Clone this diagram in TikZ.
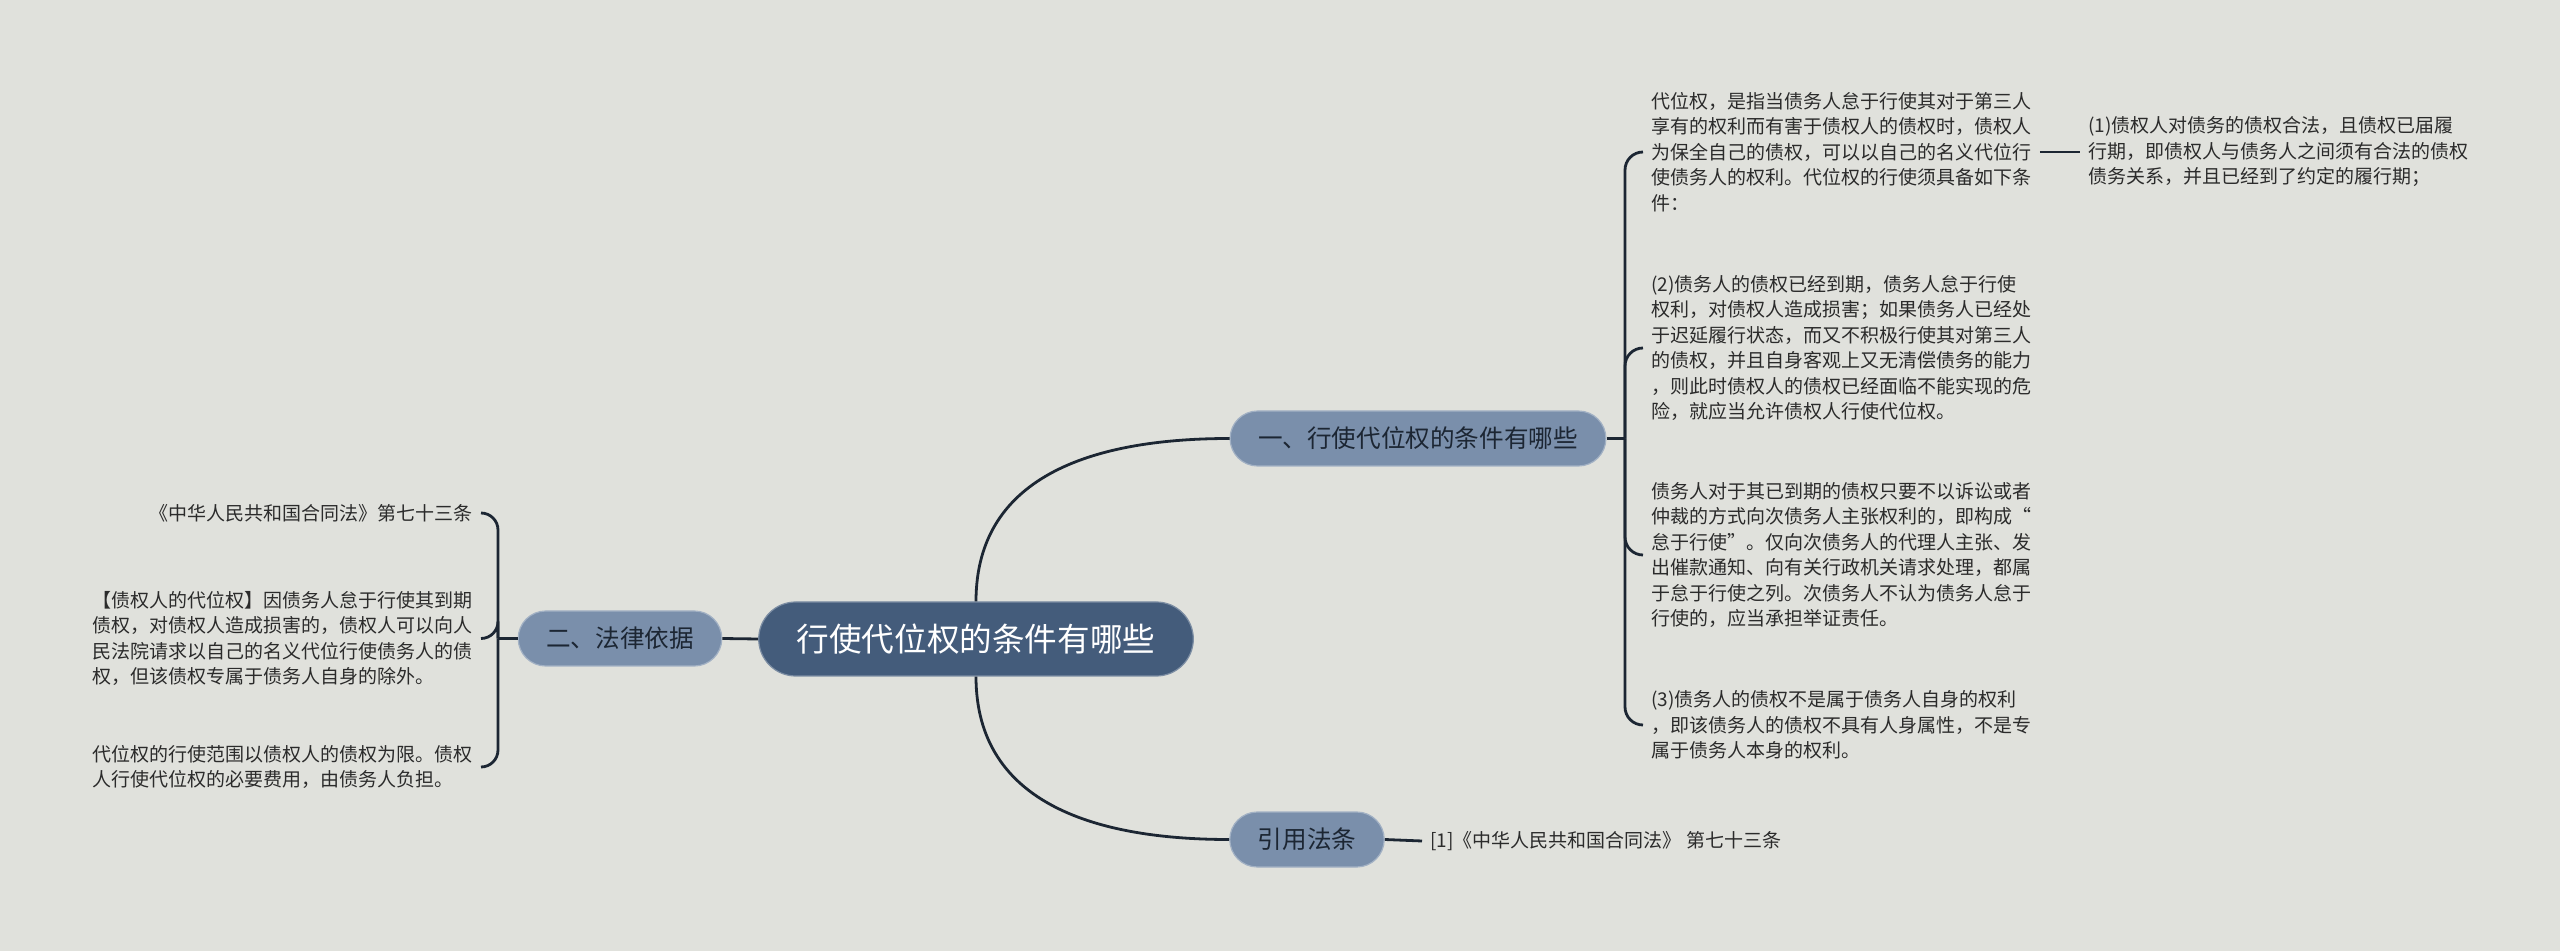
\documentclass[tikz,border=0pt]{standalone}
\usepackage{fontspec}
\newfontfamily\cjk{Noto Sans CJK SC}
\usetikzlibrary{positioning, calc}

\definecolor{bgcol}{HTML}{E0E1DC}
\definecolor{rootcol}{HTML}{445C7B}
\definecolor{subcol}{HTML}{7A8FAB}
\definecolor{linecol}{HTML}{1C2633}
\definecolor{txtcol}{HTML}{2B2B2B}

\tikzset{
  rootbox/.style={fill=rootcol, draw=rootcol!70!white, line width=0.6pt,
    rounded corners=18.5pt, minimum height=37pt, inner xsep=19pt,
    text=white, font=\cjk\fontsize{16.3pt}{20pt}\selectfont},
  subbox/.style={fill=subcol, draw=subcol!70!white, line width=0.6pt,
    rounded corners=13.75pt, minimum height=27.5pt, inner xsep=14pt,
    text=linecol, font=\cjk\fontsize{12.3pt}{15pt}\selectfont},
  leaf/.style={align=left, inner xsep=4pt, inner ysep=0pt, text=txtcol,
    font=\cjk\fontsize{9.5pt}{12.75pt}\selectfont},
  conn/.style={draw=linecol, line width=1.4pt}
}

\begin{document}
\begin{tikzpicture}[x=0.5pt,y=0.5pt]
\fill[bgcol] (0,0) rectangle (2560,-951);
\useasboundingbox (0,0) rectangle (2560,-951);

% central topic and main branches
\node[rootbox] (root) at (976,-639) {行使代位权的条件有哪些};
\node[subbox] (cond) at (1418,-438.5) {一、行使代位权的条件有哪些};
\node[subbox] (basis) at (620,-638.5) {二、法律依据};
\node[subbox] (cite) at (1307,-839.5) {引用法条};

\draw[conn] (root.north) to[out=90,in=180,looseness=1.1] (cond.west);
\draw[conn] (root.south) to[out=-90,in=180,looseness=1.1] (cite.west);
\draw[conn] (root.west) -- (basis.east);

% conditions
\coordinate (jc) at (1625,-438.5);
\node[leaf, anchor=west] (c1) at (1643,-152) {代位权，是指当债务人怠于行使其对于第三人\\
享有的权利而有害于债权人的债权时，债权人\\
为保全自己的债权，可以以自己的名义代位行\\
使债务人的权利。代位权的行使须具备如下条\\
件：};
\node[leaf, anchor=west] (c1a) at (2080,-152) {(1)债权人对债务的债权合法，且债权已届履\\
行期，即债权人与债务人之间须有合法的债权\\
债务关系，并且已经到了约定的履行期；};
\node[leaf, anchor=west] (c2) at (1643,-348) {(2)债务人的债权已经到期，债务人怠于行使\\
权利，对债权人造成损害；如果债务人已经处\\
于迟延履行状态，而又不积极行使其对第三人\\
的债权，并且自身客观上又无清偿债务的能力\\
，则此时债权人的债权已经面临不能实现的危\\
险，就应当允许债权人行使代位权。};
\node[leaf, anchor=west] (c3) at (1643,-555) {债务人对于其已到期的债权只要不以诉讼或者\\
仲裁的方式向次债务人主张权利的，即构成“\\
怠于行使”。仅向次债务人的代理人主张、发\\
出催款通知、向有关行政机关请求处理，都属\\
于怠于行使之列。次债务人不认为债务人怠于\\
行使的，应当承担举证责任。};
\node[leaf, anchor=west] (c4) at (1643,-725) {(3)债务人的债权不是属于债务人自身的权利\\
，即该债务人的债权不具有人身属性，不是专\\
属于债务人本身的权利。};

\draw[conn] (cond.east) -- (jc);
\foreach \n in {c1,c2,c3,c4}
  \draw[conn, rounded corners=9pt] (jc) |- (\n.west);
\draw[conn] (c1.east) -- (c1a.west);

% legal basis
\coordinate (jb) at (498,-638.5);
\node[leaf, anchor=east] (b1) at (481,-513) {《中华人民共和国合同法》第七十三条};
\node[leaf, anchor=east] (b2) at (481,-638.5) {【债权人的代位权】因债务人怠于行使其到期\\
债权，对债权人造成损害的，债权人可以向人\\
民法院请求以自己的名义代位行使债务人的债\\
权，但该债权专属于债务人自身的除外。};
\node[leaf, anchor=east] (b3) at (481,-767) {代位权的行使范围以债权人的债权为限。债权\\
人行使代位权的必要费用，由债务人负担。};

\draw[conn] (basis.west) -- (jb);
\foreach \n in {b1,b2,b3}
  \draw[conn, rounded corners=8.5pt] (jb) |- (\n.east);

% cited article
\node[leaf, anchor=west] (ref) at (1422,-841) {[1]《中华人民共和国合同法》 第七十三条};
\draw[conn] (cite.east) -- (ref.west);
\end{tikzpicture}
\end{document}
